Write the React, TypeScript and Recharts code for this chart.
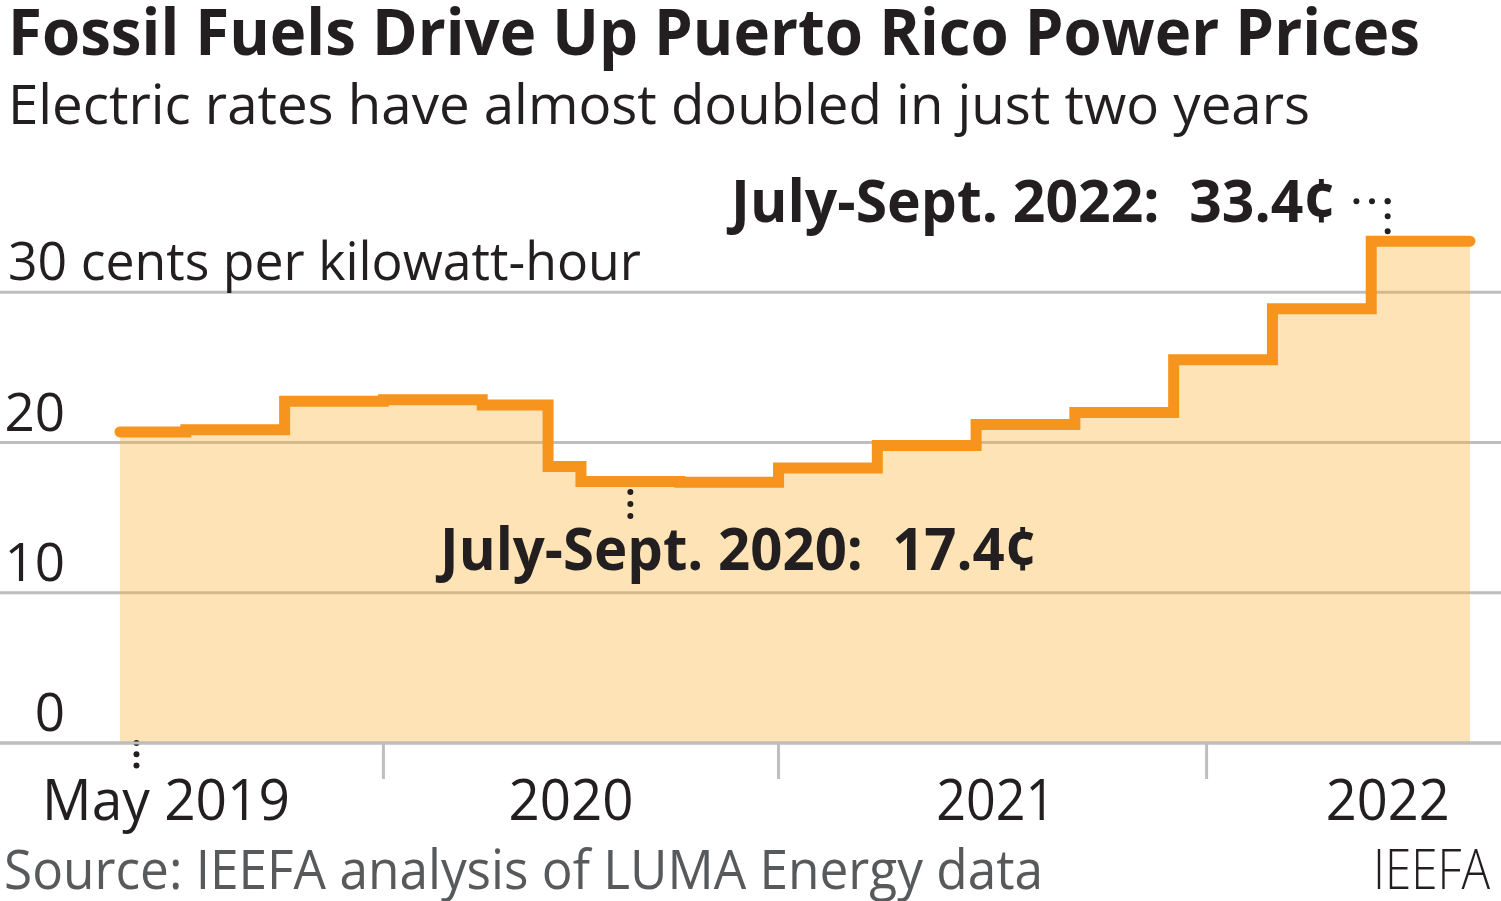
import React from "react";
import {
  ComposedChart,
  Area,
  XAxis,
  YAxis,
  CartesianGrid,
  ReferenceLine,
} from "recharts";

// ---- data ----
const periods = [
  "May 2019", "Jul 2019", "Oct 2019", "Jan 2020", "Apr 2020", "Jun 2020",
  "Jul 2020", "Oct 2020", "Jan 2021", "Apr 2021", "Jul 2021", "Oct 2021",
  "Jan 2022", "Apr 2022", "Jul 2022", "Oct 2022",
];
// months since May 2019
const monthIndex = [0, 2, 5, 8, 11, 13, 14, 17, 20, 23, 26, 29, 32, 35, 38, 41];
// cents per kWh
const cents = [20.7, 20.85, 22.75, 22.85, 22.5, 18.4, 17.4, 17.35, 18.3, 19.8, 21.2, 22.0, 25.5, 28.9, 33.4, 33.4];

const yTicks = [0, 10, 20, 30];
const tickMarkMonths = [8, 20, 33];
const xLabels = ["May 2019", "2020", "2021", "2022"];
const xLabelMonths = [1.4, 13.7, 26.6, 38.5];

const title = "Fossil Fuels Drive Up Puerto Rico Power Prices";
const subtitle = "Electric rates have almost doubled in just two years";
const unitLabel = "30 cents per kilowatt-hour";
const source = "Source: IEEFA analysis of LUMA Energy data";
const credit = "IEEFA";
const note2020 = "July-Sept. 2020:  17.4\u00a2";
const note2022 = "July-Sept. 2022:  33.4\u00a2";

const data = monthIndex.map((m, i) => ({ m, cents: cents[i], period: periods[i] }));

// ---- styles ----
const FONT = "'Open Sans', 'Noto Sans', sans-serif";
const INK = "#231F20";
const GRID = "#BEBEBE";
const xLabelWidths: Record<string, number> = { "May 2019": 248, "2020": 125, "2021": 119, "2022": 124 };

const XTick = (props: any) => {
  const { x, y, payload } = props;
  const v = payload.value;
  if (tickMarkMonths.includes(v)) {
    return <line x1={x} x2={x} y1={y + 1} y2={y + 36} stroke={GRID} strokeWidth={3} />;
  }
  const i = xLabelMonths.indexOf(v);
  const label = xLabels[i] ?? "";
  return (
    <text
      x={x}
      y={y + 77}
      textAnchor="middle"
      fontFamily={FONT}
      fontSize={57}
      fill={INK}
      textLength={xLabelWidths[label]}
      lengthAdjust="spacingAndGlyphs"
    >
      {label}
    </text>
  );
};

const YTick = (props: any) => {
  const { y, payload } = props;
  const v = payload.value;
  if (v === 30) {
    return (
      <text x={8} y={y - 12} fontFamily={FONT} fontSize={53} fill={INK} textLength={633} lengthAdjust="spacingAndGlyphs">
        {unitLabel}
      </text>
    );
  }
  return (
    <text x={65} y={y - 12} textAnchor="end" fontFamily={FONT} fontSize={53} fill={INK}>
      {String(v)}
    </text>
  );
};

const dotStyle = { stroke: INK, strokeWidth: 6, strokeLinecap: "round" as const };

export default function App() {
  return (
    <div style={{ position: "absolute", left: 0, top: 0, width: 1501, height: 901, background: "#fff" }}>
      <ComposedChart
        width={1501}
        height={901}
        data={data}
        margin={{ top: 142, right: 0, bottom: 0, left: 0 }}
      >
        <CartesianGrid horizontal vertical={false} syncWithTicks stroke={GRID} strokeWidth={3} />
        <XAxis
          dataKey="m"
          type="number"
          domain={[0, 41]}
          padding={{ left: 120, right: 31 }}
          ticks={[...tickMarkMonths, ...xLabelMonths]}
          interval={0}
          allowDecimals
          tickSize={0}
          tickMargin={0}
          height={158}
          axisLine={{ stroke: GRID, strokeWidth: 3 }}
          tickLine={false}
          tick={<XTick />}
        />
        <YAxis
          type="number"
          domain={[0, 40]}
          ticks={yTicks}
          interval={0}
          width={64}
          mirror
          tickSize={0}
          tickMargin={0}
          axisLine={false}
          tickLine={false}
          tick={<YTick />}
        />
        <Area
          type="stepAfter"
          dataKey="cents"
          stroke="#F7941D"
          strokeWidth={11}
          strokeLinecap="round"
          strokeLinejoin="miter"
          fill="#F9B233"
          fillOpacity={0.36}
          dot={false}
          activeDot={false}
          isAnimationActive={false}
        />
        <ReferenceLine
          segment={[{ x: 15.5, y: 16.7 }, { x: 15.5, y: 15.1 }]}
          strokeDasharray="0 12"
          ifOverflow="visible"
          {...dotStyle}
        />
        <ReferenceLine
          segment={[{ x: 0.5, y: 0 }, { x: 0.5, y: -1.5 }]}
          strokeDasharray="0 11.25"
          ifOverflow="visible"
          {...dotStyle}
        />
        <ReferenceLine
          segment={[{ x: 37.55, y: 36.05 }, { x: 38.5, y: 36.05 }]}
          strokeDasharray="0 15.6"
          ifOverflow="visible"
          {...dotStyle}
        />
        <ReferenceLine
          segment={[{ x: 38.5, y: 36.05 }, { x: 38.5, y: 34.05 }]}
          strokeDasharray="0 15"
          ifOverflow="visible"
          {...dotStyle}
        />
      </ComposedChart>
      <svg
        width={1501}
        height={901}
        style={{ position: "absolute", left: 0, top: 0, pointerEvents: "none" }}
      >
        <text x={8} y={55} fontFamily={FONT} fontWeight={700} fontSize={64} fill={INK} textLength={1412} lengthAdjust="spacingAndGlyphs">
          {title}
        </text>
        <text x={8} y={124} fontFamily={FONT} fontSize={55} fill={INK} textLength={1302} lengthAdjust="spacingAndGlyphs">
          {subtitle}
        </text>
        <text x={731} y={222} fontFamily={FONT} fontWeight={700} fontSize={59} fill={INK} textLength={605} lengthAdjust="spacingAndGlyphs" style={{ whiteSpace: "pre" }}>
          {note2022}
        </text>
        <text x={440} y={570} fontFamily={FONT} fontWeight={700} fontSize={59} fill={INK} textLength={597} lengthAdjust="spacingAndGlyphs" style={{ whiteSpace: "pre" }}>
          {note2020}
        </text>
        <text x={4} y={889} fontFamily={FONT} fontSize={55} fill="#58595B" textLength={1039} lengthAdjust="spacingAndGlyphs">
          {source}
        </text>
        <text x={1373} y={889} fontFamily={FONT} fontWeight={300} fontSize={55} fill={INK} textLength={117} lengthAdjust="spacingAndGlyphs">
          {credit}
        </text>
      </svg>
    </div>
  );
}
